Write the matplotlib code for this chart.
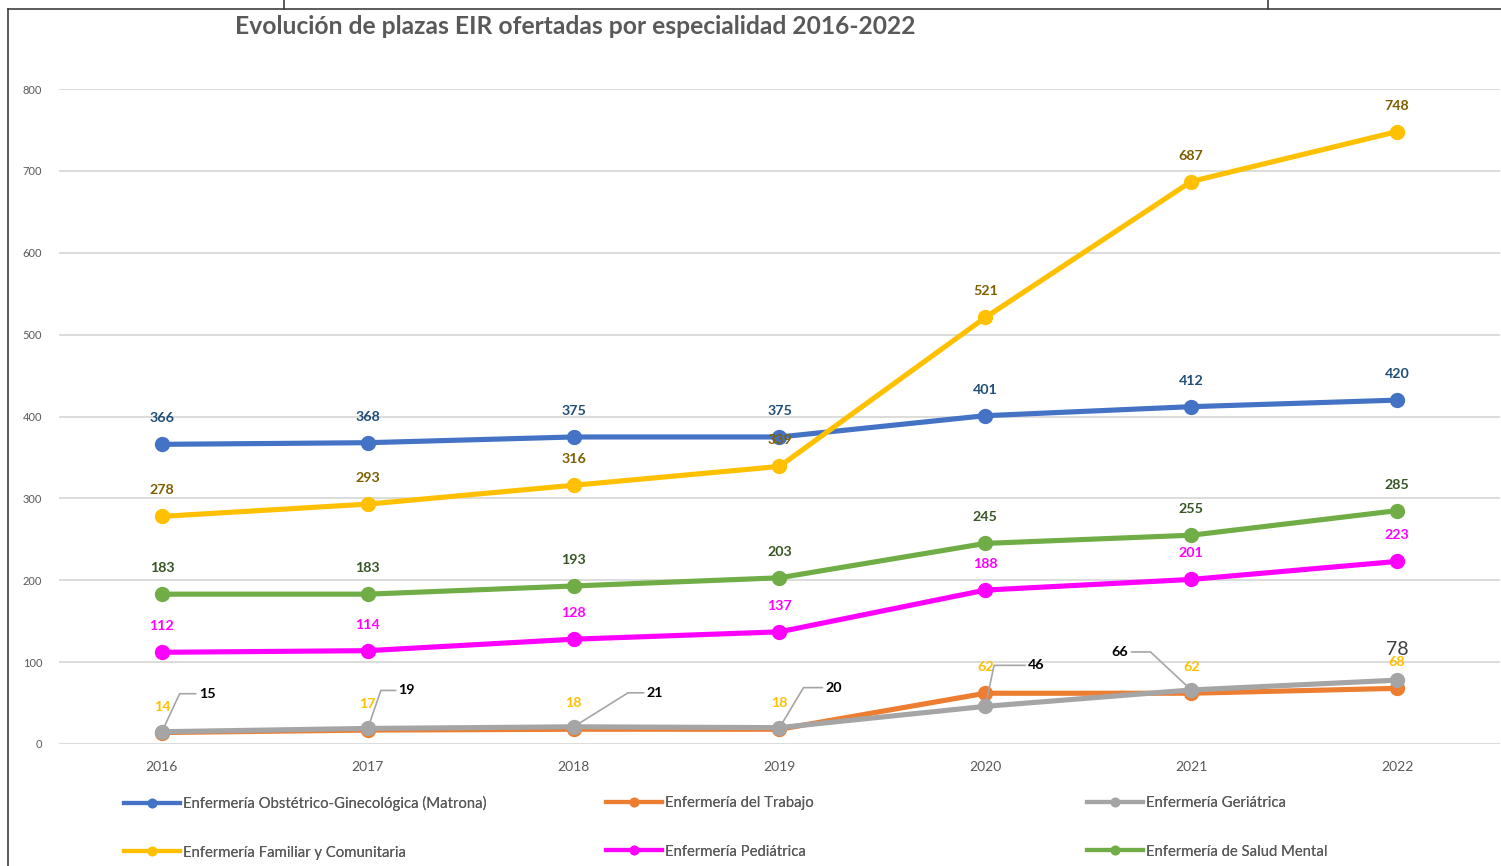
import matplotlib
matplotlib.use("Agg")
import matplotlib.pyplot as plt
from matplotlib.lines import Line2D
import numpy as np

plt.rcParams['font.family'] = ['Lato', 'DejaVu Sans']

years = ["2016", "2017", "2018", "2019", "2020", "2021", "2022"]
matrona = [366, 368, 375, 375, 401, 412, 420]
trabajo = [14, 17, 18, 18, 62, 62, 68]
geriatrica = [15, 19, 21, 20, 46, 66, 78]
familiar = [278, 293, 316, 339, 521, 687, 748]
pediatrica = [112, 114, 128, 137, 188, 201, 223]
salud_mental = [183, 183, 193, 203, 245, 255, 285]

names = ["Enfermería Obstétrico-Ginecológica (Matrona)", "Enfermería del Trabajo",
         "Enfermería Geriátrica", "Enfermería Familiar y Comunitaria",
         "Enfermería Pediátrica", "Enfermería de Salud Mental"]
series = [matrona, trabajo, geriatrica, familiar, pediatrica, salud_mental]
colors = ["#4472C4", "#ED7D31", "#A5A5A5", "#FFC000", "#FF00FF", "#70AD47"]
label_colors = ["#1F4E79", "#FFC000", "#000000", "#7F6000", "#FF00FF", "#375623"]

W, H = 1501, 866
fig = plt.figure(figsize=(W / 100, H / 100), dpi=100)
ax = fig.add_axes([59 / W, (H - 744) / H, (1500 - 59) / W, (744 - 89) / H])

x = np.arange(len(years))
lines = []
for vals, name, c in zip(series, names, colors):
    ln, = ax.plot(x, vals, color=c, lw=3.7, marker='o', ms=10, label=name,
                  solid_capstyle='round', zorder=3)
    lines.append(ln)

ax.set_xlim(-0.5, len(years) - 0.5)
ax.set_ylim(0, 800)
ax.set_yticks(range(0, 801, 100))
ax.set_xticks(x)
ax.set_xticklabels(years)
ax.grid(axis='y', color='#D9D9D9', lw=1.3)
ax.set_axisbelow(True)
for s in ax.spines.values():
    s.set_visible(False)
ax.tick_params(axis='y', length=0, pad=12, labelsize=8, labelcolor='#595959')
ax.tick_params(axis='x', length=0, pad=12, labelsize=10, labelcolor='#595959')

# standard data labels
for idx in [0, 3, 5, 4, 1]:
    vals = series[idx]
    for xi, v in zip(x, vals):
        ax.annotate(str(v), (xi, v), xytext=(0, 26), textcoords='offset pixels',
                    ha='center', va='center', fontsize=10.3, fontweight='bold',
                    color=label_colors[idx], zorder=5)

# Geriátrica labels with leader lines
ger_offsets = [(45, 38, 180, 65), (39, 38, 180, 71), (81, 34, 180, 32),
               (54, 40, 180, 59), (51, 41, 180, 78), (-71, 38, 0, 137)]
for xi, v, (dx, dy, aA, aB) in zip(x[:-1], geriatrica[:-1], ger_offsets):
    ax.annotate(str(v), (xi, v), xytext=(dx, dy), textcoords='offset pixels',
                ha='center', va='center', fontsize=10.3, fontweight='bold',
                color='#000000', zorder=5,
                arrowprops=dict(arrowstyle='-', color='#A5A5A5', lw=1.2,
                                connectionstyle=f'angle,angleA={aA},angleB={aB},rad=0',
                                shrinkA=0, shrinkB=3))
ax.annotate(str(geriatrica[-1]), (x[-1], geriatrica[-1]), xytext=(0, 31),
            textcoords='offset pixels', ha='center', va='center', fontsize=14,
            color='#404040', zorder=5)

# title
fig.text(575 / W, 1 - 27 / H, "Evolución de plazas EIR ofertadas por especialidad 2016-2022",
         ha='center', va='center', fontsize=17.7, fontweight='bold', color='#595959')

# legends (3 columns, equal width)
legend_cols = [(124, [0, 3]), (606, [1, 4]), (1087, [2, 5])]
for xl, idxs in legend_cols:
    handles = [Line2D([], [], color=colors[i], lw=3, marker='o', ms=6) for i in idxs]
    leg = fig.legend(handles, [names[i] for i in idxs], loc='upper left',
                     bbox_to_anchor=(xl / W, 1 - 796 / H), frameon=False,
                     fontsize=10.7, labelcolor='#595959', handlelength=3.8,
                     handletextpad=0.2, labelspacing=2.33, borderaxespad=0,
                     borderpad=0, markerscale=1)
    fig.add_artist(leg)

# frame lines
bc = '#404040'
fig.add_artist(Line2D([8 / W, 8 / W], [0, 1 - 9 / H], color=bc, lw=1.2))
fig.add_artist(Line2D([8 / W, 1], [1 - 9 / H, 1 - 9 / H], color=bc, lw=1.2))
fig.add_artist(Line2D([284 / W, 284 / W], [1 - 9 / H, 1], color=bc, lw=1.2))
fig.add_artist(Line2D([1268 / W, 1268 / W], [1 - 9 / H, 1], color=bc, lw=1.2))

fig.savefig("out.png", dpi=100)
